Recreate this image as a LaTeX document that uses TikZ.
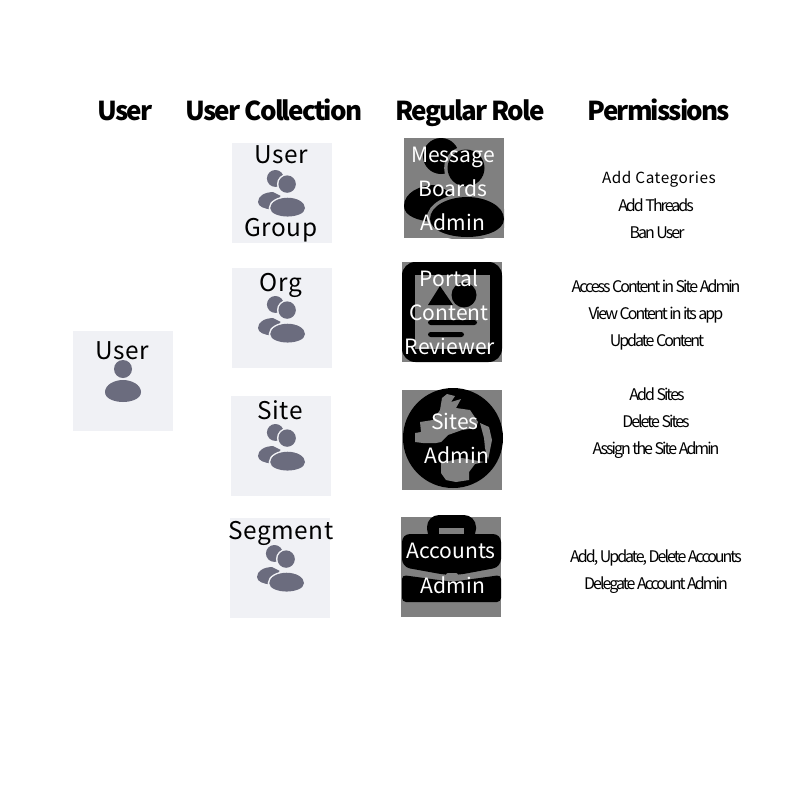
\documentclass[tikz,border=0pt]{standalone}
\usepackage{fontspec}
\usepackage{xcolor}
\usetikzlibrary{positioning}
\newfontfamily\labelfont[LetterSpace=2]{Noto Sans CJK JP}
\newfontfamily\rolefont{Noto Sans CJK JP}
\newfontfamily\permfont[LetterSpace=-12.5]{Noto Sans CJK JP}
\newfontfamily\permwidefont[LetterSpace=3.5]{Noto Sans CJK JP}
\newfontfamily\headfont[LetterSpace=-7]{Noto Sans CJK JP Black}
\definecolor{tilebg}{HTML}{F0F1F5}
\definecolor{iconfg}{HTML}{6B6C7E}
\definecolor{rolebg}{HTML}{808080}
\tikzset{
  tile/.style={rectangle,minimum size=75pt,inner sep=0pt,outer sep=0pt,fill=tilebg},
  roletile/.style={rectangle,minimum size=75pt,inner sep=0pt,outer sep=0pt,fill=rolebg},
  head/.style={anchor=base,inner sep=0pt,font=\headfont\fontsize{19.5pt}{22pt}\selectfont},
  lbl/.style={anchor=base,inner sep=0pt,font=\labelfont\fontsize{18.3pt}{22pt}\selectfont},
  rolelbl/.style={anchor=base,inner sep=0pt,text=white,font=\rolefont\fontsize{15.8pt}{22pt}\selectfont},
  perm/.style={anchor=base,inner sep=0pt,font=\permfont\fontsize{12pt}{15pt}\selectfont},
  permwide/.style={anchor=base,inner sep=0pt,font=\permwidefont\fontsize{11.5pt}{15pt}\selectfont},
  % icons are drawn in a 100 by 100 box, from its top left corner
  groupicon/.pic={
    \clip (0,0) rectangle (100,100);
    \path[fill=iconcol] (37,18) circle [radius=18];
    \path[fill=iconcol] (0,68) .. controls (0,55) and (15,47) .. (32,47) -- (48,55) -- (30,84) .. controls (14,83) and (0,78) .. (0,68) -- cycle;
    \path[fill=iconcol,preaction={draw=gapcol,line width=\gapw}] (62,30) circle [radius=18.5];
    \path[fill=iconcol,preaction={draw=gapcol,line width=\gapw}] (26,81) .. controls (26,68) and (44,59) .. (63,59) .. controls (82,59) and (100,68) .. (100,81) .. controls (100,93) and (80,99) .. (63,99) .. controls (46,99) and (26,93) .. (26,81) -- cycle;
  },
  usericon/.pic={
    \path[fill=iconfg] (18,9) circle [radius=9];
    \path[fill=iconfg] (0,32) .. controls (0,25) and (9,20) .. (18,20) .. controls (27,20) and (36,25) .. (36,32) .. controls (36,39) and (26,42) .. (18,42) .. controls (10,42) and (0,39) .. (0,32) -- cycle;
  },
  portalicon/.pic={
    \path[fill=black,rounded corners=10] (0,0) rectangle (100,100);
    \path[fill=rolebg] (13,13) rectangle (88,87);
    \path[fill=black] (38,24) -- (51,43) -- (26,43) -- cycle;
    \path[fill=black] (62,33) circle [radius=12.5];
    \path[fill=black,rounded corners=2] (26,58) rectangle (75,63);
    \path[fill=black,rounded corners=2] (26,70) rectangle (62,75);
  },
  globeicon/.pic={
    \path[fill=black] (51,48) circle [radius=50];
    \path[fill=rolebg] (40,8) -- (45,4) -- (53,6) -- (49,12) -- (59,9) -- (54,18) -- (68,20) -- (76,32) -- (74,38) -- (60,40) -- (46,45) -- (39,52) -- (34,53) -- (21,53) -- (13,52) -- (13,43) -- (19,42) -- (18,32) -- (31,30) -- (38,20) -- cycle;
    \path[fill=rolebg] (78,33) -- (87,37) -- (90,50) -- (86,70) -- (83,58) -- (82,48) -- cycle;
    \path[fill=rolebg] (39,73) -- (39,83) -- (44,90) -- (54,92) -- (67,90) -- (67,82) -- (73,74) -- (82,72) -- (60,68) -- cycle;
  },
  caseicon/.pic={
    \path[fill=black,rounded corners=9] (26,24) -- (26,-2) -- (75,-2) -- (75,24) -- cycle;
    \path[fill=rolebg] (38,11) rectangle (63,17);
    \path[fill=black,rounded corners=6] (1,50) -- (1,17) -- (100,17) -- (100,50) -- (57,58) -- (45,58) -- cycle;
    \path[fill=black,rounded corners=3] (1,58) -- (45,64) -- (57,64) -- (100,58) -- (100,85) -- (1,85) -- cycle;
    \path[fill=rolebg,rounded corners=1.5] (45,56) rectangle (57,64);
  },
}
\begin{document}
\begin{tikzpicture}[x=0.75pt,y=-0.75pt]
    \useasboundingbox (0,0) rectangle (800,800);

    \node[head] (husr) at (125,120) {User};
    \node[head] (hcol) at (274,120) {User Collection};
    \node[head] (hrole) at (470,120) {Regular Role};
    \node[head] (hperm) at (659,120) {Permissions};

    % user
    \node[tile] (usr) at (123,381) {};
    \pic at (105,360) {usericon};
    \node[lbl] (usrl) at (122,359) {User};

    % collections
    \colorlet{iconcol}{iconfg}
    \colorlet{gapcol}{tilebg}
    \def\gapw{2.2pt}
    \node[tile] (grp) at (282,193) {};
    \node[tile] (org) at (282,318) {};
    \node[tile] (sit) at (281,446) {};
    \node[tile] (seg) at (280,568) {};
    \pic[scale=.47] at (258,170) {groupicon};
    \pic[scale=.47] at (258,296) {groupicon};
    \pic[scale=.47] at (258,424) {groupicon};
    \pic[scale=.47] at (257,545) {groupicon};
    \node[lbl] (grpa) at (281,163) {User};
    \node[lbl] (grpb) at (281,236) {Group};
    \node[lbl] (orgl) at (281,291) {Org};
    \node[lbl] (sitl) at (280,419) {Site};
    \node[lbl] (segl) at (281,539) {Segment};

    % roles
    \node[roletile] (msg) at (454,188) {};
    \node[roletile] (por) at (452,312) {};
    \node[roletile] (adm) at (452,440) {};
    \node[roletile] (acc) at (451,567) {};
    \colorlet{iconcol}{black}
    \colorlet{gapcol}{rolebg}
    \def\gapw{5pt}
    \pic at (404,138) {groupicon};
    \pic at (402,262) {portalicon};
    \pic at (402,390) {globeicon};
    \pic at (401,517) {caseicon};
    \node[rolelbl] (msga) at (453,162) {Message};
    \node[rolelbl] (msgb) at (453,196) {Boards};
    \node[rolelbl] (msgc) at (453,230) {Admin};
    \node[rolelbl] (pora) at (449,286) {Portal};
    \node[rolelbl] (porb) at (449,320) {Content};
    \node[rolelbl] (porc) at (450,354) {Reviewer};
    \node[rolelbl] (adma) at (455,429) {Sites};
    \node[rolelbl] (admb) at (457,463) {Admin};
    \node[rolelbl] (acca) at (451,558) {Accounts};
    \node[rolelbl] (accb) at (453,593) {Admin};

    % permissions
    \node[permwide] (pa) at (659,183) {Add Categories};
    \node[perm] (pb) at (656,211) {Add Threads};
    \node[perm] (pc) at (657,238) {Ban User};
    \node[perm] (pd) at (656,292) {Access Content in Site Admin};
    \node[perm] (pe) at (656,319) {View Content in its app};
    \node[perm] (pf) at (657,346) {Update Content};
    \node[perm] (pg) at (657,400) {Add Sites};
    \node[perm] (ph) at (656,427) {Delete Sites};
    \node[perm] (pi) at (656,454) {Assign the Site Admin};
    \node[perm] (pj) at (656,562) {Add, Update, Delete Accounts};
    \node[perm] (pk) at (656,589) {Delegate Account Admin};
\end{tikzpicture}
\end{document}
